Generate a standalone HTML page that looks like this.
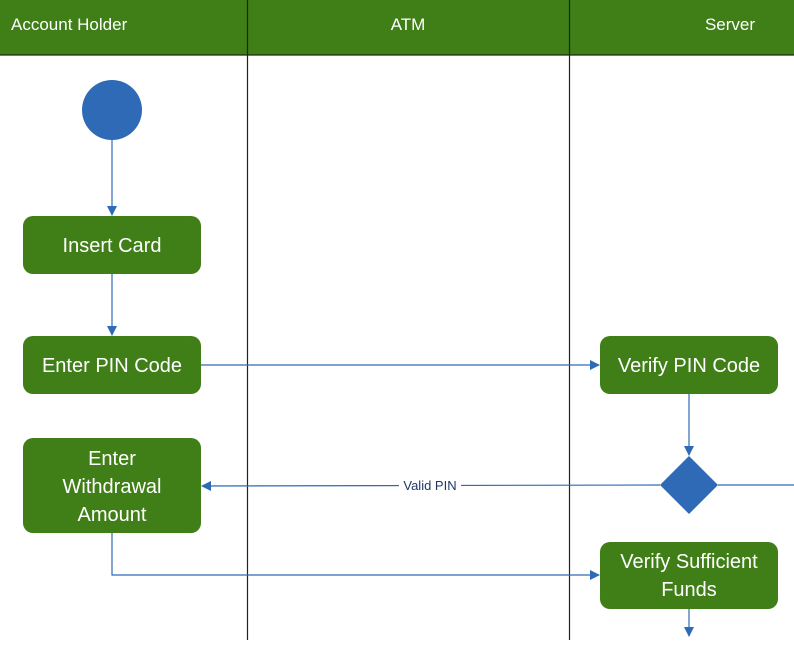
<!DOCTYPE html><html><head><style>body{margin:0;width:794px;height:640px;overflow:hidden;background:#fff;font-family:"Liberation Sans",sans-serif}</style></head><body>
<svg width="794" height="640" xmlns="http://www.w3.org/2000/svg" font-family="Liberation Sans, sans-serif">
<defs><marker id="a" markerWidth="10" markerHeight="10" refX="9" refY="5" orient="auto" markerUnits="userSpaceOnUse"><path d="M0,0 L10,5 L0,10 z" fill="#2e6ab5"/></marker></defs>
<rect x="0" y="0" width="794" height="55" fill="#407e18"/>
<line x1="0" y1="55" x2="794" y2="55" stroke="#1a2a10" stroke-width="1.2"/>
<line x1="247.5" y1="0" x2="247.5" y2="640" stroke="#1a2a10" stroke-width="1.2"/>
<line x1="569.5" y1="0" x2="569.5" y2="640" stroke="#1a2a10" stroke-width="1.2"/>
<g fill="#fff" font-size="17"><text x="11" y="30">Account Holder</text><text x="408" y="30" text-anchor="middle">ATM</text><text x="730" y="30" text-anchor="middle">Server</text></g>
<circle cx="112" cy="110" r="30" fill="#2e6ab5"/>
<g stroke="#2e6ab5" stroke-width="1.2" fill="none">
<line x1="112" y1="140" x2="112" y2="215" marker-end="url(#a)"/>
<line x1="112" y1="274" x2="112" y2="335" marker-end="url(#a)"/>
<line x1="201" y1="365" x2="599" y2="365" marker-end="url(#a)"/>
<line x1="689" y1="394" x2="689" y2="455" marker-end="url(#a)"/>
<line x1="660" y1="485" x2="202" y2="486" marker-end="url(#a)"/>
<line x1="718" y1="485" x2="794" y2="485"/>
<polyline points="112,533 112,575 599,575" marker-end="url(#a)"/>
<line x1="689" y1="609" x2="689" y2="636" marker-end="url(#a)"/>
</g>
<rect x="399" y="478" width="62" height="15" fill="#fff"/>
<text x="430" y="490" font-size="13" fill="#1f3864" text-anchor="middle">Valid PIN</text>
<polygon points="689,456 718,485 689,514 660,485" fill="#2e6ab5"/>
<g fill="#407e18"><rect x="23" y="216" width="178" height="58" rx="10"/><rect x="23" y="336" width="178" height="58" rx="10"/><rect x="600" y="336" width="178" height="58" rx="10"/><rect x="23" y="438" width="178" height="95" rx="10"/><rect x="600" y="542" width="178" height="67" rx="10"/></g>
<g fill="#fff" font-size="20" text-anchor="middle">
<text x="112" y="252">Insert Card</text>
<text x="112" y="372">Enter PIN Code</text>
<text x="689" y="372">Verify PIN Code</text>
<text x="112" y="465">Enter</text><text x="112" y="493">Withdrawal</text><text x="112" y="521">Amount</text>
<text x="689" y="568">Verify Sufficient</text><text x="689" y="596">Funds</text>
</g>
</svg></body></html>
